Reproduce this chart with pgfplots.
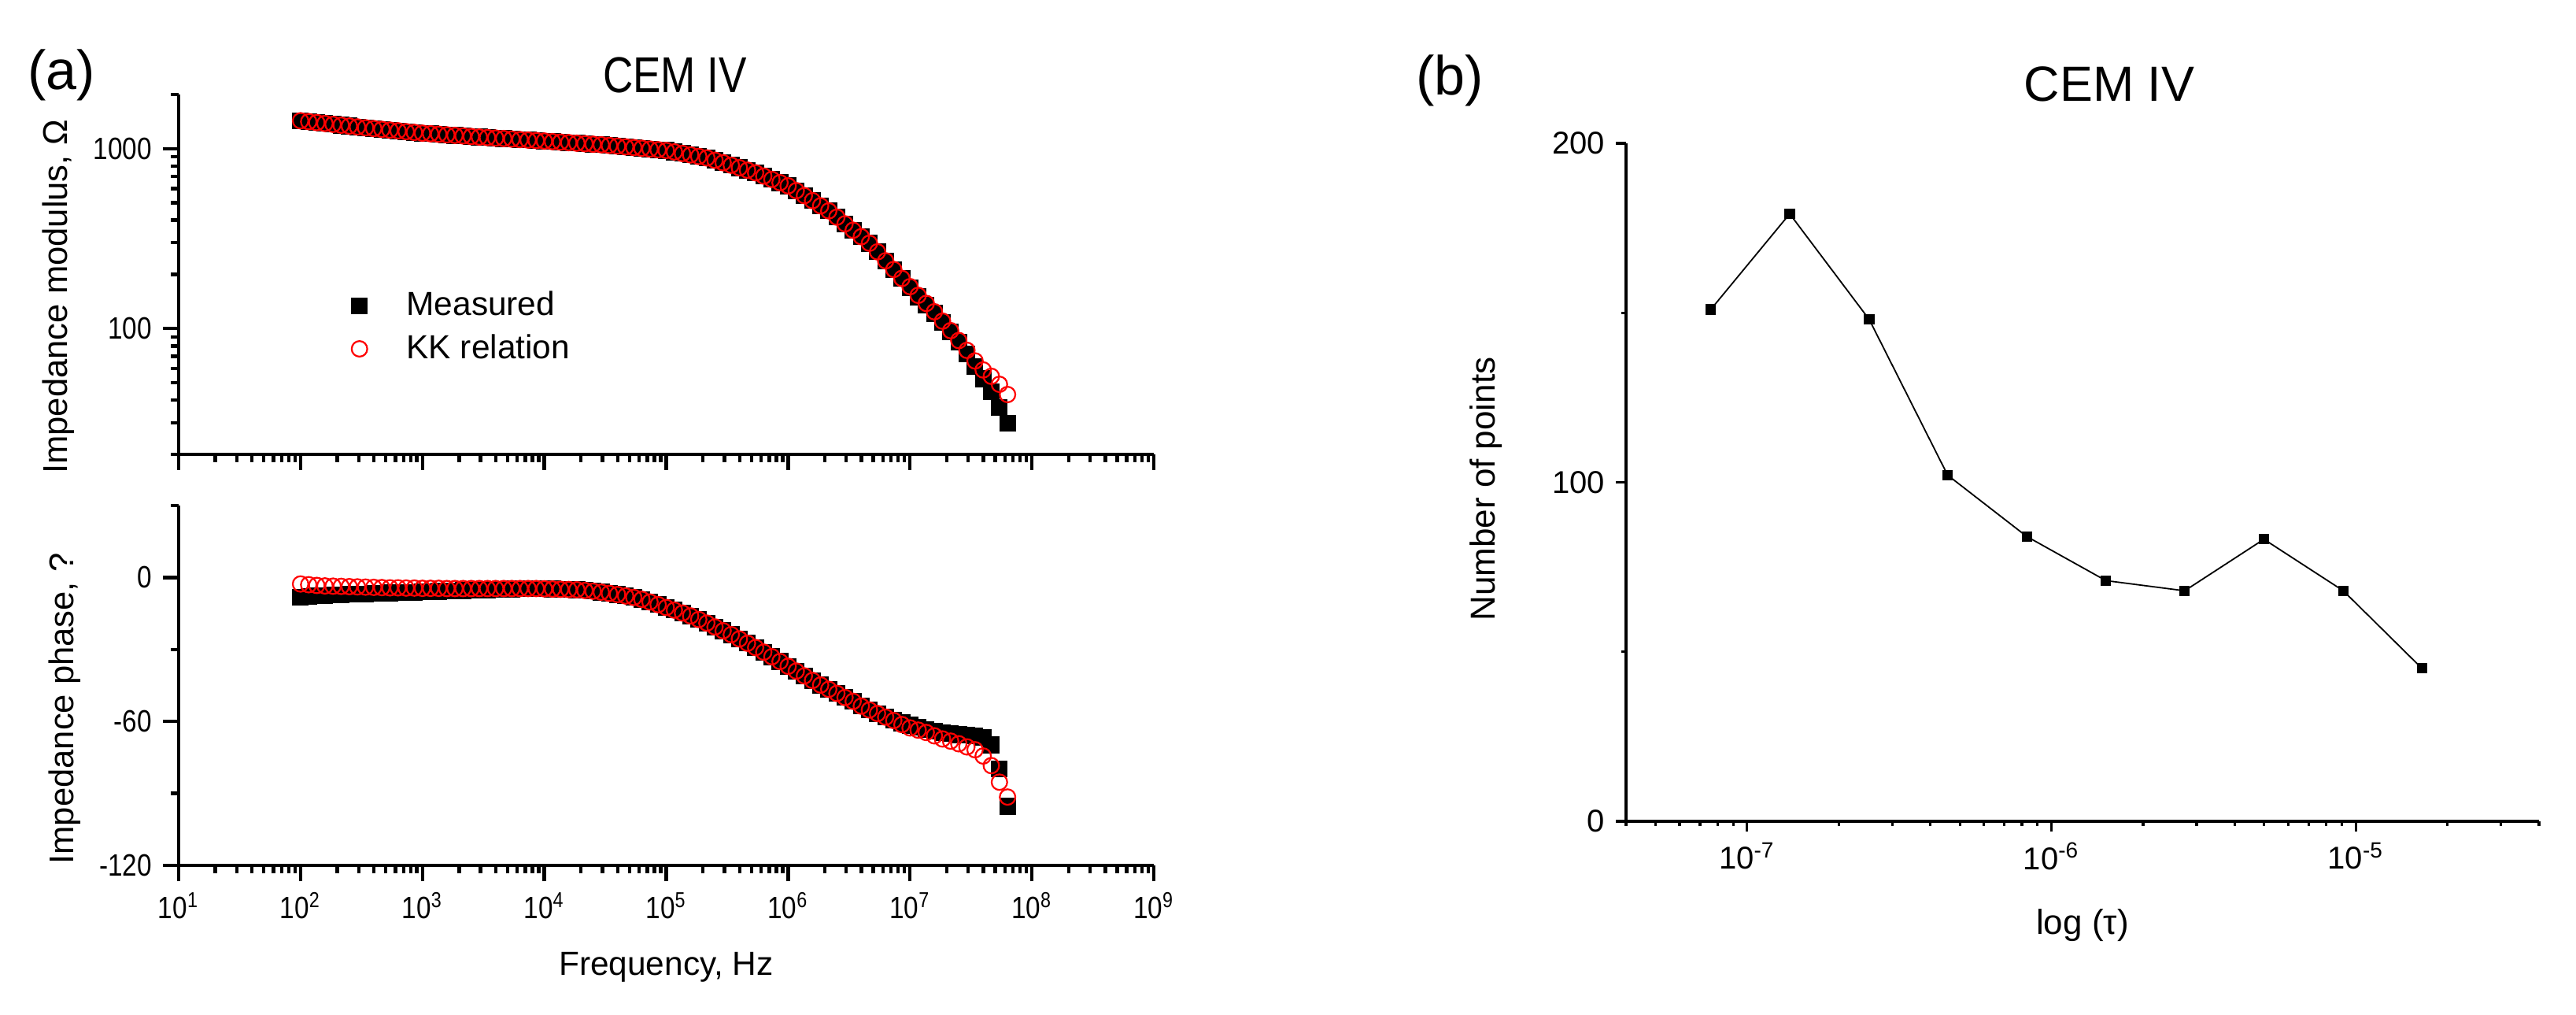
\documentclass[border=0pt]{standalone}
\usepackage{pgfplots}
\pgfplotsset{compat=1.18}
\usepackage{pgfplotstable}
\usepackage{fontspec}
\setmainfont{Liberation Sans}
\newfontfamily\narrow[FakeStretch=0.85]{Liberation Sans}
\newfontfamily\semi[FakeStretch=0.83]{Liberation Sans}

\pgfplotstableread{
f zm zk pm pk
1.000e2 1429 1429 -8.2 -2.7
1.166e2 1413 1413 -7.9 -3.0
1.359e2 1396 1396 -7.7 -3.3
1.585e2 1380 1380 -7.5 -3.5
1.848e2 1365 1365 -7.25 -3.6
2.154e2 1350 1350 -7.15 -3.7
2.512e2 1335 1335 -7.0 -3.8
2.929e2 1320 1320 -6.9 -3.9
3.415e2 1306 1306 -6.8 -4.0
3.981e2 1293 1293 -6.7 -4.1
4.642e2 1280 1280 -6.6 -4.2
5.412e2 1268 1268 -6.45 -4.3
6.310e2 1256 1256 -6.35 -4.3
7.356e2 1243 1243 -6.25 -4.4
8.577e2 1231 1231 -6.15 -4.4
1.000e3 1219 1219 -6.0 -4.5
1.166e3 1210 1210 -5.9 -4.5
1.359e3 1202 1202 -5.8 -4.5
1.585e3 1193 1193 -5.7 -4.6
1.848e3 1185 1185 -5.6 -4.6
2.154e3 1177 1177 -5.45 -4.6
2.512e3 1168 1168 -5.35 -4.6
2.929e3 1160 1160 -5.25 -4.6
3.415e3 1152 1152 -5.15 -4.6
3.981e3 1145 1145 -5.0 -4.6
4.642e3 1138 1138 -4.9 -4.6
5.412e3 1130 1130 -4.8 -4.6
6.310e3 1123 1123 -4.7 -4.6
7.356e3 1116 1116 -4.7 -4.6
8.577e3 1109 1109 -4.7 -4.6
1.000e4 1102 1102 -4.7 -4.7
1.166e4 1094 1094 -4.8 -4.8
1.359e4 1087 1087 -4.9 -4.9
1.585e4 1080 1080 -5.0 -5.0
1.848e4 1072 1072 -5.1 -5.1
2.154e4 1065 1065 -5.4 -5.4
2.512e4 1058 1058 -5.7 -5.7
2.929e4 1051 1051 -6.1 -6.1
3.415e4 1042 1042 -6.6 -6.6
3.981e4 1033 1033 -7.1 -7.1
4.642e4 1023 1023 -7.7 -7.7
5.412e4 1014 1014 -8.3 -8.3
6.310e4 1005 1005 -9.1 -9.1
7.356e4 995 995 -10.2 -10.2
8.577e4 986 986 -11.3 -11.3
1.000e5 977 977 -12.5 -12.5
1.166e5 959 959 -13.6 -13.6
1.359e5 940 940 -14.8 -14.8
1.585e5 923 923 -16.0 -16.0
1.848e5 905 905 -17.5 -17.5
2.154e5 888 888 -19.0 -19.0
2.512e5 862 862 -20.6 -20.6
2.929e5 835 835 -22.2 -22.2
3.415e5 809 809 -23.8 -23.8
3.981e5 783 783 -25.6 -25.6
4.642e5 759 759 -27.4 -27.4
5.412e5 734 734 -29.2 -29.2
6.310e5 704 704 -31.1 -31.1
7.356e5 675 675 -33.0 -33.0
8.577e5 647 647 -35.0 -35.0
1.000e6 621 621 -37.0 -37.0
1.166e6 584 584 -39.0 -39.0
1.359e6 548 548 -41.0 -41.0
1.585e6 514 514 -42.9 -42.9
1.848e6 481 481 -44.8 -44.8
2.154e6 451 451 -46.6 -46.6
2.512e6 416 416 -48.3 -48.3
2.929e6 382 382 -50.0 -50.0
3.415e6 352 352 -51.6 -51.6
3.981e6 324 324 -53.6 -53.6
4.642e6 298 298 -55.2 -55.2
5.412e6 267 267 -56.7 -56.7
6.310e6 238 238 -58.2 -58.2
7.356e6 213 213 -59.5 -59.6
8.577e6 190 190 -60.6 -61.3
1.000e7 168 171 -61.6 -62.7
1.166e7 150 153 -62.5 -63.6
1.359e7 135 138 -63.3 -64.6
1.585e7 121.5 124 -64.0 -66.0
1.848e7 108 110 -64.6 -67.3
2.154e7 95.5 97.4 -65.1 -68.2
2.512e7 84 85.8 -65.5 -69.3
2.929e7 72.4 75.7 -65.8 -70.6
3.415e7 61.4 66.1 -66.0 -71.8
3.981e7 52.6 58.9 -66.6 -74.4
4.642e7 44.7 54.3 -69.8 -78.4
5.412e7 36.5 49.0 -79.7 -85.3
6.310e7 29.7 43.0 -95.4 -91.5
}\imp

\pgfplotstableread{
t n
7.6e-8 151
1.38e-7 179.2
2.52e-7 148
4.56e-7 102.1
8.3e-7 84
1.51e-6 71
2.74e-6 68
4.99e-6 83.2
9.1e-6 68
1.65e-5 45.1
}\dist

\begin{document}
\begin{tikzpicture}
\path[use as bounding box] (0pt,0pt) rectangle (818.25pt,322pt);

\node[font=\fontsize{17.5}{19}\selectfont] at (19.5pt,298.25pt) {(a)};
\node[font=\fontsize{17.5}{19}\selectfont] at (460.5pt,296.5pt) {(b)};

% Panel (a) top: modulus
\begin{axis}[at={(56.75pt,177.75pt)}, anchor=south west,
  scale only axis, width=309.75pt, height=114.25pt,
  xmode=log, xmin=10, xmax=1e9,
  axis lines=left, axis line style={-, line width=1.1pt},
  tick align=outside, major tick length=5pt, minor tick length=2.5pt,
  tick style={black, line width=1.1pt},
  xtick={1e1,1e2,1e3,1e4,1e5,1e6,1e7,1e8,1e9},
  minor xtick={20,30,40,50,60,70,80,90,200,300,400,500,600,700,800,900,
    2000,3000,4000,5000,6000,7000,8000,9000,2e4,3e4,4e4,5e4,6e4,7e4,8e4,9e4,
    2e5,3e5,4e5,5e5,6e5,7e5,8e5,9e5,2e6,3e6,4e6,5e6,6e6,7e6,8e6,9e6,
    2e7,3e7,4e7,5e7,6e7,7e7,8e7,9e7,2e8,3e8,4e8,5e8,6e8,7e8,8e8,9e8},
  tick label style={font=\narrow\fontsize{9.8}{11}\selectfont},
  ymode=log, ymin=20, ymax=2000,
  ytick={100,1000}, yticklabels={100,1000},
  minor ytick={20,30,40,50,60,70,80,90,200,300,400,500,600,700,800,900,2000},
  xticklabels={},
  ylabel={Impedance modulus, Ω},
  ylabel style={at={(axis description cs:-0.1235,0.4376)}, anchor=center, font=\fontsize{10.9}{12}\selectfont},
  title={CEM IV},
  title style={at={(axis description cs:0.509,1.0547)}, anchor=center, yshift=-6pt, font=\semi\fontsize{16}{18}\selectfont},
  legend style={at={(axis description cs:0.1768,0.353)}, anchor=west, draw=none, fill=none,
    inner sep=0pt, row sep=0.5pt, font=\fontsize{10.6}{12}\selectfont,
    /tikz/every odd column/.append style={column sep=10.5pt}},
  legend cell align=left,
]
\addplot[only marks, mark=square*, mark size=2.45pt, black, mark options={line width=0.4pt}] table[x=f, y=zm] {\imp};
\addlegendentry{Measured}
\addplot[only marks, mark=o, mark size=2.47pt, red, mark options={line width=0.55pt}] table[x=f, y=zk] {\imp};
\addlegendentry{KK relation}
\end{axis}

% Panel (a) bottom: phase
\begin{axis}[at={(56.75pt,47.25pt)}, anchor=south west,
  scale only axis, width=309.75pt, height=114.25pt,
  xmode=log, xmin=10, xmax=1e9,
  axis lines=left, axis line style={-, line width=1.1pt},
  tick align=outside, major tick length=5pt, minor tick length=2.5pt,
  tick style={black, line width=1.1pt},
  xtick={1e1,1e2,1e3,1e4,1e5,1e6,1e7,1e8,1e9},
  minor xtick={20,30,40,50,60,70,80,90,200,300,400,500,600,700,800,900,
    2000,3000,4000,5000,6000,7000,8000,9000,2e4,3e4,4e4,5e4,6e4,7e4,8e4,9e4,
    2e5,3e5,4e5,5e5,6e5,7e5,8e5,9e5,2e6,3e6,4e6,5e6,6e6,7e6,8e6,9e6,
    2e7,3e7,4e7,5e7,6e7,7e7,8e7,9e7,2e8,3e8,4e8,5e8,6e8,7e8,8e8,9e8},
  tick label style={font=\narrow\fontsize{9.8}{11}\selectfont},
  ymin=-120, ymax=30,
  ytick={-120,-60,0}, yticklabels={-120,-60,0},
  minor ytick={-90,-30,30},
  xticklabels={10\textsuperscript{1},10\textsuperscript{2},10\textsuperscript{3},10\textsuperscript{4},10\textsuperscript{5},10\textsuperscript{6},10\textsuperscript{7},10\textsuperscript{8},10\textsuperscript{9}},
  ylabel={Impedance phase, ?},
  ylabel style={at={(axis description cs:-0.117,0.4354)}, anchor=center, font=\fontsize{10.9}{12}\selectfont},
  xlabel={Frequency, Hz},
  xlabel style={at={(axis description cs:0.5,-0.2823)}, anchor=center, font=\fontsize{10.6}{12}\selectfont},
]
\addplot[only marks, mark=square*, mark size=2.45pt, black, mark options={line width=0.4pt}] table[x=f, y=pm] {\imp};
\addplot[only marks, mark=o, mark size=2.47pt, red, mark options={line width=0.55pt}] table[x=f, y=pk] {\imp};
\end{axis}

% Panel (b)
\begin{axis}[at={(516.5pt,61.25pt)}, anchor=south west,
  scale only axis, width=290pt, height=215.25pt,
  xmode=log, xmin=4e-8, xmax=4e-5, ymin=0, ymax=200,
  axis lines=left, axis line style={-, line width=0.8pt},
  tick align=outside, major tick length=3.25pt, minor tick length=1.5pt,
  tick style={black, line width=0.8pt},
  xtick={1e-7,1e-6,1e-5},
  xticklabels={10\textsuperscript{-7},10\textsuperscript{-6},10\textsuperscript{-5}},
  minor xtick={4e-8,5e-8,6e-8,7e-8,8e-8,9e-8,2e-7,3e-7,4e-7,5e-7,6e-7,7e-7,8e-7,9e-7,
    2e-6,3e-6,4e-6,5e-6,6e-6,7e-6,8e-6,9e-6,2e-5,3e-5,4e-5},
  ytick={0,100,200}, yticklabels={0,100,200},
  minor ytick={50,150},
  tick label style={font=\fontsize{10}{12}\selectfont},
  xlabel={log (τ)},
  xlabel style={at={(axis description cs:0.5,-0.1533)}, anchor=center, font=\fontsize{11}{13}\selectfont},
  ylabel={Number of points},
  ylabel style={at={(axis description cs:-0.1534,0.490)}, anchor=center, font=\fontsize{11}{13}\selectfont},
  title={CEM IV},
  title style={at={(axis description cs:0.5293,1.0878)}, anchor=center, yshift=-6pt, font=\fontsize{15.7}{18}\selectfont},
]
\addplot[black, line width=0.45pt, mark=square*, mark size=1.5pt, mark options={solid, line width=0.3pt}] table[x=t, y=n] {\dist};
\end{axis}
\end{tikzpicture}
\end{document}
